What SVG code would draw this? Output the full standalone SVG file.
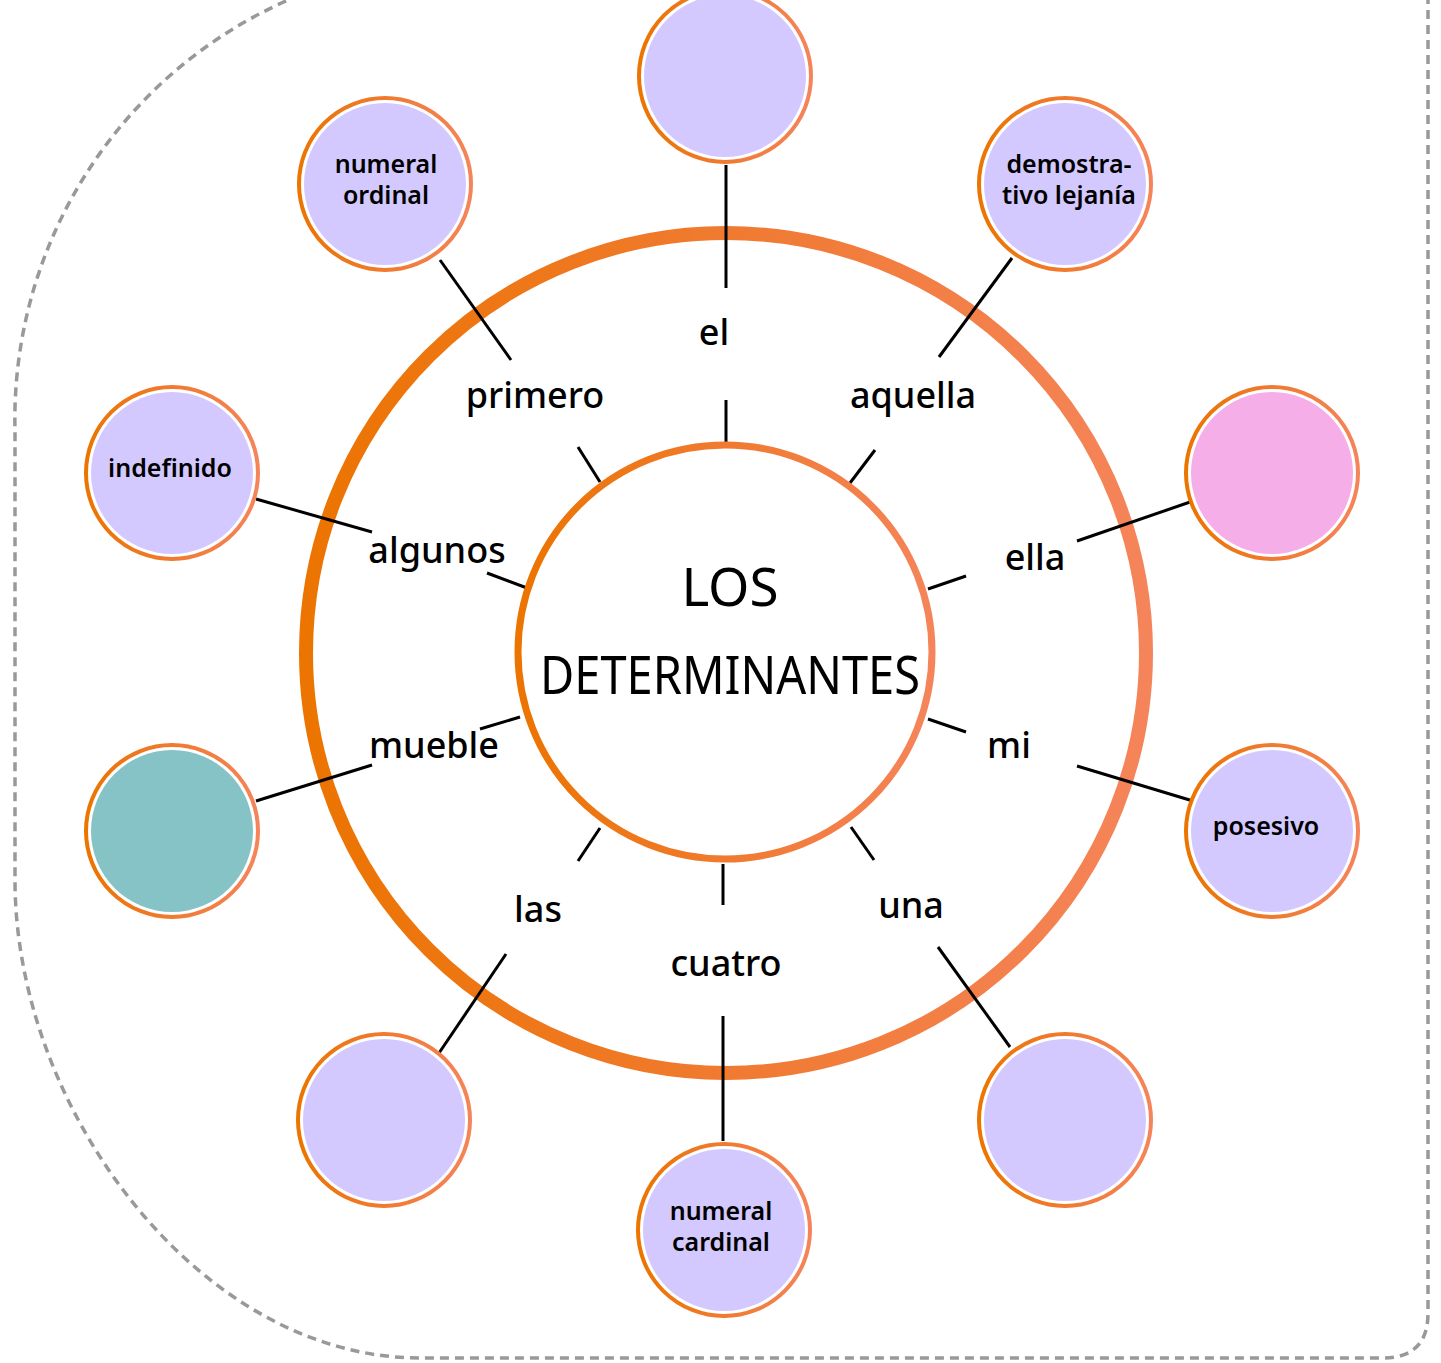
<svg xmlns="http://www.w3.org/2000/svg" width="1441" height="1363" viewBox="0 0 1441 1363">
<style>
.bd{fill:none;stroke:#999;stroke-width:3.5;stroke-dasharray:9 6}
.ring{fill:none;stroke:url(#og)}
.no{fill:none;stroke:url(#og);stroke-width:4}
.lav{fill:#D3C9FE}
.pink{fill:#F5AEE8}
.teal{fill:#85C3C6}
.wh{fill:#fff}
.ln{stroke:#000;stroke-width:3;fill:none}
.lb{font-family:'Noto Sans','Open Sans',sans-serif;font-size:36px;font-weight:500;fill:#000;text-anchor:middle}
.st{font-family:'Noto Sans','Open Sans',sans-serif;font-size:25px;font-weight:600;fill:#000;text-anchor:middle}
.ct{font-family:'Noto Sans','Liberation Sans',sans-serif;font-size:53px;fill:#000;text-anchor:middle}
</style>
<defs>
<linearGradient id="og" x1="0" y1="0" x2="1" y2="0">
<stop offset="0" stop-color="#EC7400"/>
<stop offset="0.5" stop-color="#F07A30"/>
<stop offset="1" stop-color="#F5845A"/>
</linearGradient>
</defs>
<rect width="1441" height="1363" fill="#fff"/>
<path class="bd" d="M 1428 -5 L 1428 1313 Q 1428 1358 1383 1358 L 420 1358 C 200 1358 15 1110 15 880 L 15 430 A 458 458 0 0 1 300 -5"/>
<g id="rings">
<circle class="ring" cx="726" cy="653" r="420" stroke-width="14"/>
</g>
<g id="connectors">
<line class="ln" x1="726" y1="165" x2="726" y2="288"/>
<line class="ln" x1="726" y1="400" x2="726" y2="442"/>
<line class="ln" x1="440" y1="260" x2="511" y2="360"/>
<line class="ln" x1="578" y1="447" x2="600" y2="482"/>
<line class="ln" x1="1012" y1="258" x2="939" y2="357"/>
<line class="ln" x1="875" y1="450" x2="850" y2="483"/>
<line class="ln" x1="256" y1="499" x2="372" y2="532"/>
<line class="ln" x1="487" y1="573" x2="527" y2="588"/>
<line class="ln" x1="1193" y1="501" x2="1077" y2="541"/>
<line class="ln" x1="966" y1="576" x2="928" y2="589"/>
<line class="ln" x1="256" y1="801" x2="372" y2="765"/>
<line class="ln" x1="480" y1="729" x2="520" y2="717"/>
<line class="ln" x1="1193" y1="801" x2="1077" y2="766"/>
<line class="ln" x1="928" y1="719" x2="966" y2="732"/>
<line class="ln" x1="437" y1="1056" x2="506" y2="954"/>
<line class="ln" x1="578" y1="861" x2="600" y2="828"/>
<line class="ln" x1="723" y1="1016" x2="723" y2="1141"/>
<line class="ln" x1="723" y1="864" x2="723" y2="905"/>
<line class="ln" x1="1010" y1="1047" x2="938" y2="947"/>
<line class="ln" x1="851" y1="827" x2="874" y2="860"/>
</g>
<g id="center">
<circle class="wh" cx="725" cy="652" r="207"/>
<circle class="ring" cx="725" cy="652" r="207" stroke-width="7"/>
<text class="ct" x="730" y="606">LOS</text>
<text class="ct" x="730" y="694" textLength="380" lengthAdjust="spacingAndGlyphs">DETERMINANTES</text>
</g>
<g id="labels">
<text class="lb" x="714" y="345">el</text>
<text class="lb" x="535" y="408">primero</text>
<text class="lb" x="913" y="408">aquella</text>
<text class="lb" x="437" y="563">algunos</text>
<text class="lb" x="1035" y="570">ella</text>
<text class="lb" x="434" y="758">mueble</text>
<text class="lb" x="1009" y="758">mi</text>
<text class="lb" x="538" y="922">las</text>
<text class="lb" x="726" y="976">cuatro</text>
<text class="lb" x="911" y="918">una</text>
</g>
<g id="n-top"><circle class="wh" cx="725" cy="76" r="86"/><circle class="lav" cx="725" cy="76" r="81"/><circle class="no" cx="725" cy="76" r="86"/></g>
<g id="n-ordinal"><circle class="wh" cx="385" cy="184" r="86"/><circle class="lav" cx="385" cy="184" r="81"/><circle class="no" cx="385" cy="184" r="86"/>
<text class="st" x="386" y="173">numeral</text><text class="st" x="386" y="204">ordinal</text></g>
<g id="n-demostrativo"><circle class="wh" cx="1065" cy="184" r="86"/><circle class="lav" cx="1065" cy="184" r="81"/><circle class="no" cx="1065" cy="184" r="86"/>
<text class="st" x="1069" y="173">demostra-</text><text class="st" x="1069" y="204">tivo lejanía</text></g>
<g id="n-indefinido"><circle class="wh" cx="172" cy="473" r="86"/><circle class="lav" cx="172" cy="473" r="81"/><circle class="no" cx="172" cy="473" r="86"/>
<text class="st" x="170" y="477">indefinido</text></g>
<g id="n-pink"><circle class="wh" cx="1272" cy="473" r="86"/><circle class="pink" cx="1272" cy="473" r="81"/><circle class="no" cx="1272" cy="473" r="86"/></g>
<g id="n-teal"><circle class="wh" cx="172" cy="831" r="86"/><circle class="teal" cx="172" cy="831" r="81"/><circle class="no" cx="172" cy="831" r="86"/></g>
<g id="n-posesivo"><circle class="wh" cx="1272" cy="831" r="86"/><circle class="lav" cx="1272" cy="831" r="81"/><circle class="no" cx="1272" cy="831" r="86"/>
<text class="st" x="1266" y="835">posesivo</text></g>
<g id="n-bottomleft"><circle class="wh" cx="384" cy="1120" r="86"/><circle class="lav" cx="384" cy="1120" r="81"/><circle class="no" cx="384" cy="1120" r="86"/></g>
<g id="n-bottomright"><circle class="wh" cx="1065" cy="1120" r="86"/><circle class="lav" cx="1065" cy="1120" r="81"/><circle class="no" cx="1065" cy="1120" r="86"/></g>
<g id="n-cardinal"><circle class="wh" cx="724" cy="1230" r="86"/><circle class="lav" cx="724" cy="1230" r="81"/><circle class="no" cx="724" cy="1230" r="86"/>
<text class="st" x="721" y="1220">numeral</text><text class="st" x="721" y="1251">cardinal</text></g>
</svg>
